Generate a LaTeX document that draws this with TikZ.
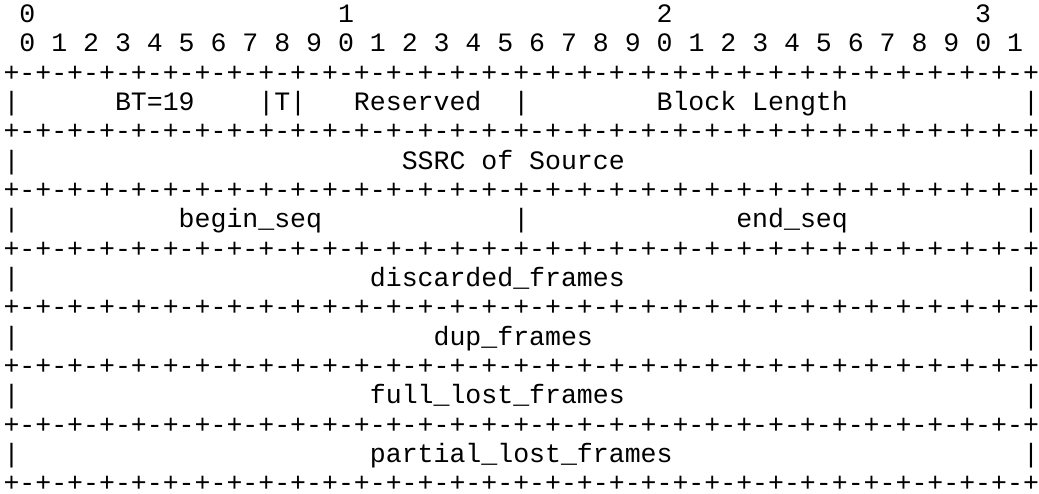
\documentclass[tikz,border=0pt]{standalone}
\usepackage{fontspec}
\setmonofont{Liberation Mono}
\tikzset{
  tok/.style={anchor=base west, inner sep=0pt, outer sep=0pt,
    font=\fontsize{26.55}{30}\selectfont\ttfamily, text=black}
}
% #1 name, #2 row, #3 column, #4 text
\newcommand\tok[4]{\node[tok] (#1) at ({3.5+15.93*#3},{471.4-29.33*#2}) {#4};}
\begin{document}
\begin{tikzpicture}[x=1pt,y=1pt]
\fill[white] (0,0) rectangle (1039,494);
\useasboundingbox (0,0) rectangle (1039,494);
% bit ruler
\tok{h0}{0}{1}{0}
\tok{h1}{0}{21}{1}
\tok{h2}{0}{41}{2}
\tok{h3}{0}{61}{3}
\tok{bits}{1}{1}{0 1 2 3 4 5 6 7 8 9 0 1 2 3 4 5 6 7 8 9 0 1 2 3 4 5 6 7 8 9 0 1}
% borders
\foreach \r in {2,4,6,8,10,12,14,16}{
  \tok{b\r}{\r}{0}{+-+-+-+-+-+-+-+-+-+-+-+-+-+-+-+-+-+-+-+-+-+-+-+-+-+-+-+-+-+-+-+-+}
}
% row 3
\tok{r3a}{3}{0}{|}
\tok{bt}{3}{7}{BT=19}
\tok{t}{3}{16}{|T|}
\tok{res}{3}{22}{Reserved}
\tok{r3b}{3}{32}{|}
\tok{bl}{3}{41}{Block Length}
\tok{r3c}{3}{64}{|}
% row 5
\tok{r5a}{5}{0}{|}
\tok{ssrc}{5}{25}{SSRC of Source}
\tok{r5c}{5}{64}{|}
% row 7
\tok{r7a}{7}{0}{|}
\tok{bs}{7}{11}{begin\_seq}
\tok{r7b}{7}{32}{|}
\tok{es}{7}{46}{end\_seq}
\tok{r7c}{7}{64}{|}
% row 9
\tok{r9a}{9}{0}{|}
\tok{disc}{9}{23}{discarded\_frames}
\tok{r9c}{9}{64}{|}
% row 11
\tok{r11a}{11}{0}{|}
\tok{dup}{11}{27}{dup\_frames}
\tok{r11c}{11}{64}{|}
% row 13
\tok{r13a}{13}{0}{|}
\tok{full}{13}{23}{full\_lost\_frames}
\tok{r13c}{13}{64}{|}
% row 15
\tok{r15a}{15}{0}{|}
\tok{part}{15}{23}{partial\_lost\_frames}
\tok{r15c}{15}{64}{|}
\end{tikzpicture}
\end{document}
